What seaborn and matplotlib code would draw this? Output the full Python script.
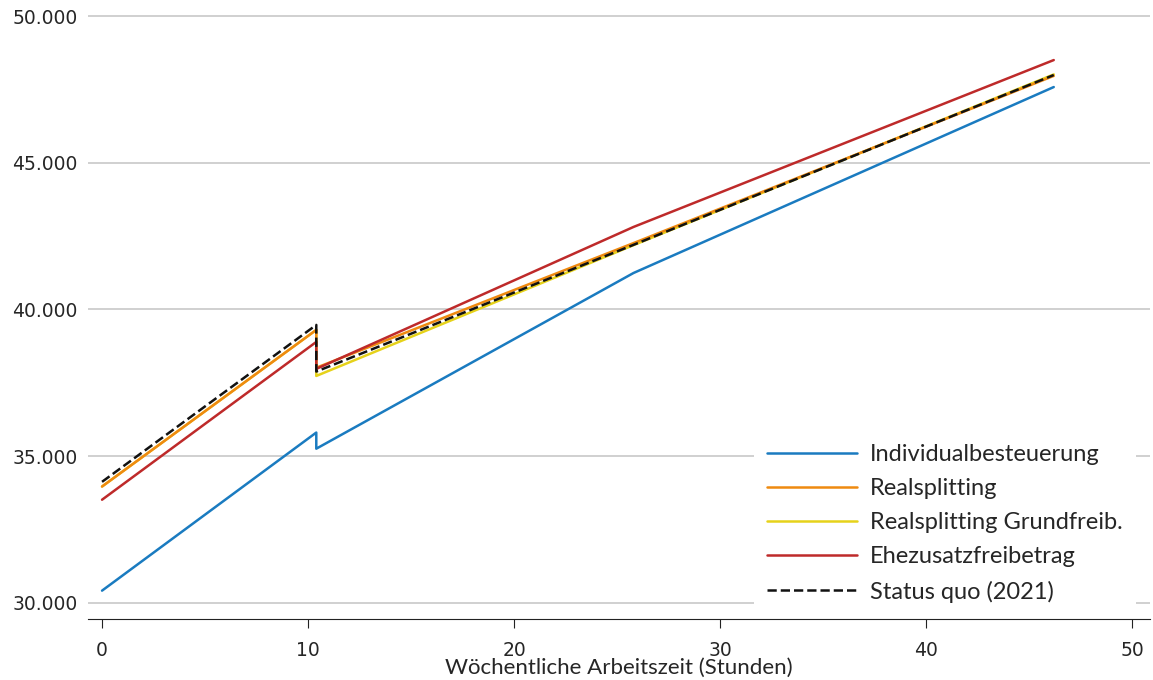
import numpy as np
import pandas as pd
import seaborn as sns
import matplotlib.pyplot as plt
from matplotlib.ticker import FuncFormatter

# hours per week (the jump at the minijob threshold is drawn as two points at the same x)
hours = [0, 10.4, 10.4, 25.8, 46.2]

individual = [30410, 35800, 35250, 41240, 47580]
realsplitting = [33960, 39300, 38010, 42260, 47960]
realsplitting_gf = [33960, 39300, 37730, 42190, 48010]
ehezusatz = [33510, 38890, 37970, 42810, 48500]
status_quo = [34120, 39470, 37880, 42200, 47990]

names = ['Individualbesteuerung', 'Realsplitting', 'Realsplitting Grundfreib.',
         'Ehezusatzfreibetrag', 'Status quo (2021)']
series = [individual, realsplitting, realsplitting_gf, ehezusatz, status_quo]
colors = ['#1a7bc0', '#ef8a10', '#e6d21a', '#be2a2a', '#111111']

rows = []
for name, vals in zip(names, series):
    for h, v in zip(hours, vals):
        rows.append({'Stunden': h, 'Einkommen': v, 'Szenario': name})
df = pd.DataFrame(rows)

sns.set_style('white')
plt.rcParams['font.family'] = ['DejaVu Sans']

fig = plt.figure(figsize=(11.53, 6.8), dpi=100)
ax = fig.add_axes([0.076, 0.09, 0.921, 0.895])

# drawing order: yellow under orange, status quo on top
order = [0, 2, 1, 3, 4]
for i in order:
    sub = df[df['Szenario'] == names[i]]
    sns.lineplot(data=sub, x='Stunden', y='Einkommen', ax=ax, estimator=None, sort=False,
                 color=colors[i], linewidth=1.8, label=names[i],
                 linestyle='--' if i == 4 else '-')

ax.set_xlim(-0.7, 50.85)
ax.set_ylim(29450, 50200)
ax.set_xticks([0, 10, 20, 30, 40, 50])
ax.set_yticks([30000, 35000, 40000, 45000, 50000])
ax.yaxis.set_major_formatter(FuncFormatter(lambda v, p: f'{v:,.0f}'.replace(',', '.')))
ax.grid(axis='y', color='#c8c8c8', linewidth=1.2)
ax.grid(axis='x', visible=False)
for s in ['top', 'right', 'left']:
    ax.spines[s].set_visible(False)
ax.spines['bottom'].set_color('#222222')
ax.tick_params(axis='x', bottom=True, length=6.5, color='#222222', labelsize=13.5, pad=9.5)
ax.tick_params(axis='y', left=False, labelsize=13.5)
ax.set_xlabel('Wöchentliche Arbeitszeit (Stunden)', fontsize=16, labelpad=-1.5,
              family=['Lato', 'DejaVu Sans'])
ax.set_ylabel('')

handles, labels = ax.get_legend_handles_labels()
lookup = dict(zip(labels, handles))
leg = ax.legend([lookup[n] for n in names], names, loc='lower right',
                bbox_to_anchor=(0.998, -0.014),
                prop={'family': ['Lato', 'DejaVu Sans'], 'size': 17},
                handlelength=3.8, frameon=True, facecolor='white', edgecolor='none',
                framealpha=1, fancybox=False, borderpad=0.55, labelspacing=0.55,
                handletextpad=0.55)
for line in leg.get_lines():
    line.set_linewidth(1.8)

fig.savefig('out.png', dpi=100)
